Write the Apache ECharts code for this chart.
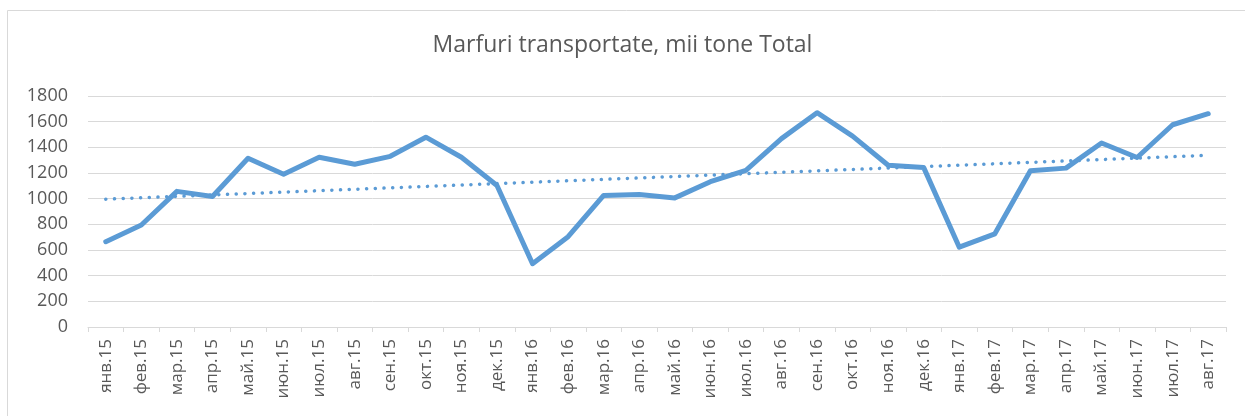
<!DOCTYPE html>
<html>
<head>
<meta charset="utf-8">
<script src="https://cdn.jsdelivr.net/npm/echarts@6/dist/echarts.min.js"></script>
<style>
  html, body { margin: 0; padding: 0; background: #fff; }
  #chart { width: 1245px; height: 416px; }
</style>
</head>
<body>
<div id="chart"></div>
<script>
var months = ['янв.15', 'фев.15', 'мар.15', 'апр.15', 'май.15', 'июн.15', 'июл.15', 'авг.15',
  'сен.15', 'окт.15', 'ноя.15', 'дек.15', 'янв.16', 'фев.16', 'мар.16', 'апр.16',
  'май.16', 'июн.16', 'июл.16', 'авг.16', 'сен.16', 'окт.16', 'ноя.16', 'дек.16',
  'янв.17', 'фев.17', 'мар.17', 'апр.17', 'май.17', 'июн.17', 'июл.17', 'авг.17'];
var totals = [665, 795, 1057, 1017, 1315, 1190, 1323, 1268,
  1330, 1479, 1323, 1103, 493, 704, 1025, 1033,
  1006, 1132, 1221, 1468, 1670, 1487, 1260, 1242,
  622, 726, 1217, 1238, 1434, 1321, 1576, 1662];
// linear trend, end points
var trendEnds = [996, 1338];
var yTicks = { min: 0, max: 1800, interval: 200 };

var chart = echarts.init(document.getElementById('chart'));
var txt = '#595959';
var gridColor = '#d9d9d9';

chart.setOption({
  animation: false,
  textStyle: { fontFamily: 'Open Sans' },
  graphic: [{
    type: 'rect',
    shape: { x: 7.5, y: 10.5, width: 1400, height: 600 },
    style: { fill: 'none', stroke: '#d9d9d9', lineWidth: 1 },
    silent: true
  }],
  title: {
    text: 'Marfuri transportate, mii tone Total',
    left: 'center',
    top: 29,
    textStyle: { fontFamily: 'Open Sans', fontSize: 23, fontWeight: 'normal', color: txt }
  },
  grid: { left: 88, right: 19, top: 96, bottom: 89 },
  xAxis: {
    type: 'category',
    data: months,
    boundaryGap: true,
    axisLine: { lineStyle: { color: gridColor, width: 1 } },
    axisTick: { show: true, length: 5, lineStyle: { color: gridColor } },
    axisLabel: { rotate: 90, color: txt, fontSize: 17, margin: 12, interval: 0 }
  },
  yAxis: {
    type: 'value',
    min: yTicks.min,
    max: yTicks.max,
    interval: yTicks.interval,
    axisLine: { show: false },
    axisTick: { show: false },
    splitLine: { lineStyle: { color: gridColor, width: 1 } },
    axisLabel: { color: txt, fontSize: 18, margin: 20, formatter: function (v) { return String(v); } }
  },
  series: [{
    name: 'Total',
    type: 'line',
    data: totals,
    symbol: 'none',
    lineStyle: { color: '#5b9bd5', width: 5, cap: 'round', join: 'round' },
    markLine: {
      silent: true,
      symbol: ['none', 'none'],
      label: { show: false },
      lineStyle: { color: '#5b9bd5', width: 3.5, type: [0.1, 8.6], cap: 'round' },
      data: [[
        { coord: [months[0], trendEnds[0]] },
        { coord: [months[months.length - 1], trendEnds[1]] }
      ]]
    }
  }]
});
</script>
</body>
</html>
